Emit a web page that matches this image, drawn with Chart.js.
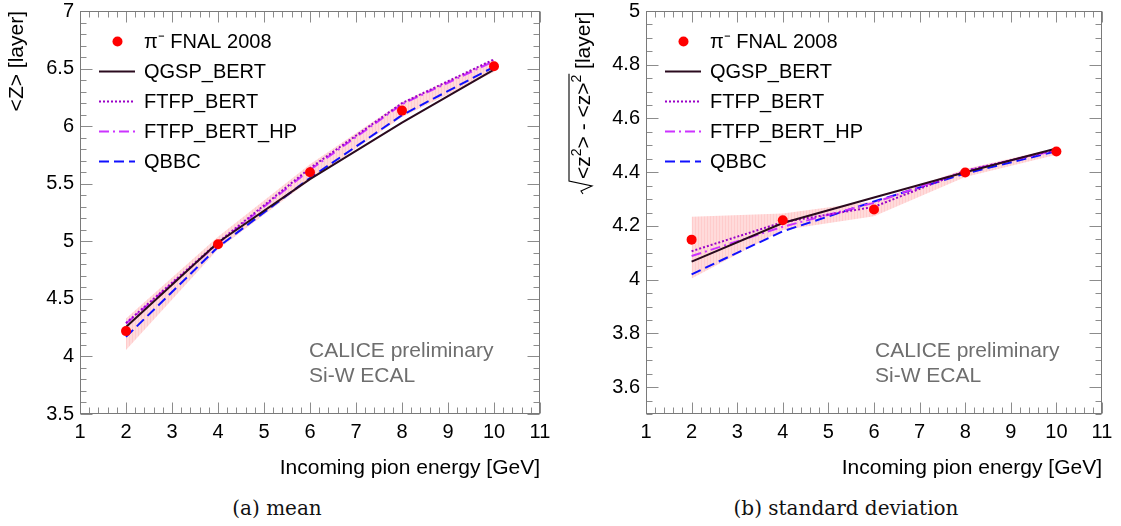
<!DOCTYPE html>
<html><head><meta charset="utf-8">
<script src="https://cdn.jsdelivr.net/npm/chart.js@4.4.0/dist/chart.umd.min.js"></script>
<style>
html,body{margin:0;padding:0;background:#fff;width:1121px;height:526px;overflow:hidden;position:relative;}
canvas{position:absolute;top:0;}
.cap{position:absolute;top:496px;line-height:24px;font-family:"DejaVu Serif","Liberation Serif",serif;font-size:20px;color:#111;white-space:nowrap;transform:translateX(-50%);}
</style></head><body>
<canvas id="c1" width="560" height="480" style="left:0"></canvas>
<canvas id="c2" width="561" height="480" style="left:560px"></canvas>
<div class="cap" style="left:277px">(a) mean</div>
<div class="cap" style="left:846px">(b) standard deviation</div>
<script>
// ---------- data ----------
const energies = [2, 4, 6, 8, 10];

const meanData   = [4.22, 4.975, 5.60, 6.135, 6.52];
const meanQGSP   = [4.255, 4.99, 5.54, 6.03, 6.49];
const meanFTFP   = [4.29, 4.99, 5.635, 6.20, 6.58];
const meanFTFPHP = [4.285, 4.98, 5.62, 6.19, 6.565];
const meanQBBC   = [4.17, 4.95, 5.55, 6.095, 6.515];
const meanBandHi = [4.33, 5.04, 5.67, 6.21, 6.58];
const meanBandLo = [4.055, 4.93, 5.53, 6.08, 6.47];

const stdData   = [4.149, 4.221, 4.261, 4.399, 4.477];
const stdQGSP   = [4.067, 4.211, 4.306, 4.400, 4.488];
const stdFTFP   = [4.106, 4.214, 4.271, 4.405, 4.484];
const stdFTFPHP = [4.088, 4.197, 4.286, 4.405, 4.482];
const stdQBBC   = [4.020, 4.180, 4.291, 4.395, 4.478];
const stdBandHi = [4.234, 4.246, 4.292, 4.412, 4.490];
const stdBandLo = [4.004, 4.185, 4.236, 4.382, 4.465];

const xTickValues = [1, 2, 3, 4, 5, 6, 7, 8, 9, 10, 11];
const xTickLabels = ['1', '2', '3', '4', '5', '6', '7', '8', '9', '10', '11'];
const meanTickValues = [3.5, 4, 4.5, 5, 5.5, 6, 6.5, 7];
const meanTickLabels = ['3.5', '4', '4.5', '5', '5.5', '6', '6.5', '7'];
const stdTickValues = [3.6, 3.8, 4, 4.2, 4.4, 4.6, 4.8, 5];
const stdTickLabels = ['3.6', '3.8', '4', '4.2', '4.4', '4.6', '4.8', '5'];

const seriesNames = ['\u03C0\u207B FNAL 2008', 'QGSP_BERT', 'FTFP_BERT', 'FTFP_BERT_HP', 'QBBC'];
const xTitle = 'Incoming pion energy [GeV]';
const meanTitle = '<Z> [layer]';
const noteLines = ['CALICE preliminary', 'Si-W ECAL'];

// ---------- helpers ----------
const FONT = '"Liberation Sans", Arial, sans-serif';
const pts = arr => energies.map((e, i) => ({x: e, y: arr[i]}));

function bandPattern() {
  const c = document.createElement('canvas');
  c.width = 3; c.height = 1;
  const g = c.getContext('2d');
  g.fillStyle = 'rgba(255,0,0,0.14)'; g.fillRect(0, 0, 3, 1);
  g.fillStyle = 'rgba(255,0,0,0.07)'; g.fillRect(0, 0, 1, 1);
  return g.createPattern(c, 'repeat');
}

function makeDatasets(d, q, f, fh, b, hi, lo) {
  const pat = bandPattern();
  return [
    {label: seriesNames[0], data: pts(d), showLine: false, pointRadius: 5, pointBackgroundColor: '#ff0000', backgroundColor: '#ff0000', borderColor: '#ff0000', pointBorderWidth: 0},
    {label: seriesNames[1], data: pts(q), borderColor: '#2a0a1e', borderWidth: 2, pointRadius: 0},
    {label: seriesNames[2], data: pts(f), borderColor: '#9a00c8', borderWidth: 2, borderDash: [2, 2], pointRadius: 0},
    {label: seriesNames[3], data: pts(fh), borderColor: '#cc33ff', borderWidth: 2, borderDash: [10, 4, 2, 4], pointRadius: 0},
    {label: seriesNames[4], data: pts(b), borderColor: '#1010ff', borderWidth: 2, borderDash: [10, 5], pointRadius: 0},
    {label: 'band_hi', noLegend: true, data: pts(hi), borderWidth: 0, borderColor: 'rgba(0,0,0,0)', pointRadius: 0, backgroundColor: pat, fill: '+1'},
    {label: 'band_lo', noLegend: true, data: pts(lo), borderWidth: 0, borderColor: 'rgba(0,0,0,0)', pointRadius: 0, fill: false}
  ];
}

const frameTicks = {
  id: 'frameTicks',
  afterDatasetsDraw(chart, args, o) {
    const {ctx, chartArea: a, scales: {x, y}} = chart;
    ctx.save();
    ctx.strokeStyle = '#8c8c8c';
    ctx.lineWidth = 1;
    const L = Math.round(a.left) + 0.5, R = Math.round(a.right) - 0.5;
    const T = Math.round(a.top) + 0.5, B = Math.round(a.bottom) - 0.5;
    ctx.beginPath();
    const nx = Math.round((x.max - x.min) / o.xMinor);
    for (let i = 0; i <= nx; i++) {
      const v = x.min + i * o.xMinor;
      const major = Math.abs(v / o.xMajor - Math.round(v / o.xMajor)) < 1e-6;
      const len = major ? 11 : 6;
      const px = Math.round(x.getPixelForValue(v)) + 0.5;
      ctx.moveTo(px, B); ctx.lineTo(px, B - len);
      ctx.moveTo(px, T); ctx.lineTo(px, T + len);
    }
    const ny = Math.round((y.max - y.min) / o.yMinor);
    for (let i = 0; i <= ny; i++) {
      const v = y.min + i * o.yMinor;
      const major = Math.abs(v / o.yMajor - Math.round(v / o.yMajor)) < 1e-6;
      const len = major ? 12 : 6;
      const py = Math.round(y.getPixelForValue(v)) + 0.5;
      ctx.moveTo(L, py); ctx.lineTo(L + len, py);
      ctx.moveTo(R, py); ctx.lineTo(R - len, py);
    }
    ctx.stroke();
    ctx.strokeStyle = '#7a7a7a';
    ctx.strokeRect(L, T, R - L, B - T);
    ctx.restore();
  }
};

const legendBox = {
  id: 'legendBox',
  afterDraw(chart) {
    const {ctx, chartArea: a} = chart;
    const items = chart.data.datasets.filter(d => !d.noLegend);
    ctx.save();
    ctx.font = '20px ' + FONT;
    ctx.textBaseline = 'middle';
    items.forEach((d, i) => {
      const yy = a.top + 30.5 + i * 30;
      if (d.showLine === false) {
        ctx.fillStyle = d.backgroundColor;
        ctx.beginPath(); ctx.arc(a.left + 37.5, yy, 5, 0, 2 * Math.PI); ctx.fill();
      } else {
        ctx.strokeStyle = d.borderColor; ctx.lineWidth = d.borderWidth;
        ctx.setLineDash(d.borderDash || []);
        ctx.beginPath(); ctx.moveTo(a.left + 19, yy); ctx.lineTo(a.left + 55, yy); ctx.stroke();
        ctx.setLineDash([]);
      }
      ctx.fillStyle = '#000';
      ctx.fillText(d.label, a.left + 64, yy + 1);
    });
    // CALICE note
    ctx.font = '21px ' + FONT;
    ctx.fillStyle = '#6e6e6e';
    noteLines.forEach((t, i) => ctx.fillText(t, a.left + 229, 351 + i * 25));
    ctx.restore();
  }
};

const sqrtTitle = {
  id: 'sqrtTitle',
  afterDraw(chart) {
    if (!chart.options.plugins.sqrtTitle || !chart.options.plugins.sqrtTitle.show) return;
    const ctx = chart.ctx;
    ctx.save();
    ctx.translate(30, 0);
    ctx.rotate(-Math.PI / 2);
    ctx.fillStyle = '#000'; ctx.strokeStyle = '#000';
    ctx.textBaseline = 'alphabetic';
    const main = '21px ' + FONT, sup = '14px ' + FONT;
    const u0 = -194;
    let u = u0 + 15;
    const parts = [['<z', main, 0], ['2', sup, -9], ['> - <z>', main, 0], ['2', sup, -9]];
    parts.forEach(([t, f, v]) => { ctx.font = f; ctx.fillText(t, u, v); u += ctx.measureText(t).width; });
    const uEnd = u + 1;
    ctx.lineWidth = 1.1;
    ctx.beginPath();
    ctx.moveTo(u0, -7); ctx.lineTo(u0 + 3, -9); ctx.lineTo(u0 + 8, 2); ctx.lineTo(u0 + 13, -21); ctx.lineTo(uEnd, -21);
    ctx.stroke();
    ctx.font = main;
    ctx.fillText(' [layer]', u, 0);
    ctx.restore();
  }
};

function makeChart(id, datasets, yMin, yMax, yVals, yLabs, yMinor, yMajor, yWidth, rightPad, yTitleText) {
  return new Chart(document.getElementById(id), {
    type: 'line',
    data: {datasets},
    options: {
      responsive: false,
      animation: false,
      layout: {padding: {top: 11, right: rightPad, left: 0, bottom: 0}},
      plugins: {
        legend: {display: false},
        tooltip: {enabled: false},
        frameTicks: {xMinor: 0.2, xMajor: 1, yMinor: yMinor, yMajor: yMajor},
        sqrtTitle: {show: !yTitleText}
      },
      elements: {line: {tension: 0}},
      scales: {
        x: {
          type: 'linear', min: 1, max: 11,
          afterBuildTicks: s => { s.ticks = xTickValues.map(v => ({value: v})); },
          afterFit: s => { s.height = 66; s.paddingLeft = 0; s.paddingRight = 0; },
          grid: {display: false, drawTicks: false},
          border: {display: false},
          ticks: {autoSkip: false, maxRotation: 0, padding: 8, color: '#000',
                  font: {family: FONT, size: 20, lineHeight: 1},
                  callback: (v) => xTickLabels[xTickValues.indexOf(v)]},
          title: {display: true, text: xTitle, align: 'end', color: '#000',
                  font: {family: FONT, size: 21, lineHeight: 1}, padding: {top: 0, bottom: 1}}
        },
        y: {
          type: 'linear', min: yMin, max: yMax,
          afterBuildTicks: s => { s.ticks = yVals.map(v => ({value: v})); },
          afterFit: s => { s.width = yWidth; s.paddingTop = 0; s.paddingBottom = 0; },
          grid: {display: false, drawTicks: false},
          border: {display: false},
          ticks: {autoSkip: false, padding: 6, color: '#000',
                  font: {family: FONT, size: 20, lineHeight: 1},
                  callback: (v) => yLabs[yVals.indexOf(v)]},
          title: {display: !!yTitleText, text: yTitleText || '', align: 'end', color: '#000',
                  font: {family: FONT, size: 21, lineHeight: 1}, padding: {top: 7, bottom: 0}}
        }
      }
    },
    plugins: [frameTicks, legendBox, sqrtTitle]
  });
}

makeChart('c1', makeDatasets(meanData, meanQGSP, meanFTFP, meanFTFPHP, meanQBBC, meanBandHi, meanBandLo),
  3.5, 7, meanTickValues, meanTickLabels, 0.1, 0.5, 80, 20, meanTitle);
makeChart('c2', makeDatasets(stdData, stdQGSP, stdFTFP, stdFTFPHP, stdQBBC, stdBandHi, stdBandLo),
  3.5, 5, stdTickValues, stdTickLabels, 0.05, 0.2, 86, 19, null);
</script>
</body></html>
